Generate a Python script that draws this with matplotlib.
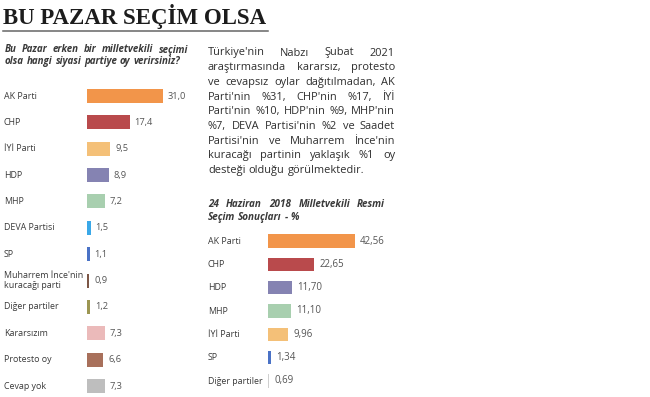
import matplotlib.pyplot as plt
from matplotlib import transforms

# Survey (Feb 2021)
parties = ["AK Parti", "CHP", "İYİ Parti", "HDP", "MHP", "DEVA Partisi", "SP",
           "Muharrem İnce'nin\nkuracağı parti", "Diğer partiler", "Kararsızım",
           "Protesto oy", "Cevap yok"]
votes = [31.0, 17.4, 9.5, 8.9, 7.2, 1.5, 1.1, 0.9, 1.2, 7.3, 6.6, 7.3]
colors = ["#F2954A", "#B94A4C", "#F4C078", "#8583B2", "#A8CFAF", "#3AA8E8", "#4A72C6",
          "#7C5646", "#9C9652", "#EBBABA", "#A8705B", "#BEBEBE"]

# Official results, 24 June 2018
parties_2018 = ["AK Parti", "CHP", "HDP", "MHP", "İYİ Parti", "SP", "Diğer partiler"]
votes_2018 = [42.56, 22.65, 11.70, 11.10, 9.96, 1.34, 0.69]
colors_2018 = ["#F2954A", "#B94A4C", "#8583B2", "#A8CFAF", "#F4C078", "#4A72C6", "#CFCFCF"]

question = ["Bu Pazar erken bir milletvekili seçimi",
            "olsa hangi siyasi partiye oy verirsiniz?"]
subtitle_2018 = ["24 Haziran 2018 Milletvekili Resmi", "Seçim Sonuçları - %"]
paragraph = [
    "Türkiye'nin Nabzı Şubat 2021",
    "araştırmasında kararsız, protesto",
    "ve cevapsız oylar dağıtılmadan, AK",
    "Parti'nin %31, CHP'nin %17, İYİ",
    "Parti'nin %10, HDP'nin %9, MHP'nin",
    "%7, DEVA Partisi'nin %2 ve Saadet",
    "Partisi'nin ve Muharrem İnce'nin",
    "kuracağı partinin yaklaşık %1 oy",
    "desteği olduğu görülmektedir.",
]

W, H = 650, 397
fig = plt.figure(figsize=(W / 100, H / 100), dpi=100)
fig.patch.set_facecolor("white")
SANS = "Open Sans"
TXT = "#3a3a3a"


def fx(px):
    return px / W


def fy(py):
    return 1 - py / H


def bar_axes(x0, x1, row_top, row_bot, n, scale):
    step = (row_bot - row_top) / (n - 1)
    top = row_top - step / 2
    bot = row_bot + step / 2
    ax = fig.add_axes([fx(x0), fy(bot), fx(x1 - x0), (bot - top) / H])
    ax.set_xlim(0, (x1 - x0) / scale)
    ax.set_ylim(n - 0.5, -0.5)
    ax.axis("off")
    return ax


def justified(lines, x0, x1, y0, lh, **kw):
    renderer = fig.canvas.get_renderer()
    for li, line in enumerate(lines):
        words = line.split(" ")
        y = fy(y0 + li * lh)
        objs = [fig.text(fx(x0), y, w, va="center", **kw) for w in words]
        widths = [o.get_window_extent(renderer).width for o in objs]
        if li < len(lines) - 1 and len(words) > 1:
            gap = (x1 - x0 - sum(widths)) / (len(words) - 1)
        else:
            gap = kw["fontsize"] * 0.42
        x = x0
        for o, wd in zip(objs, widths):
            o.set_x(fx(x))
            x += wd + gap


fig.canvas.draw()

# title
fig.text(fx(3), fy(24), "BU PAZAR SEÇİM OLSA", family="Liberation Serif",
         weight="bold", fontsize=16.5, color="#1c1c1c", va="baseline")
fig.add_artist(plt.Line2D([fx(3), fx(268)], [fy(31), fy(31)], color="#666666", lw=1.1))

justified(question, 5, 188, 50, 11.5, family=SANS, style="italic", weight="bold",
          fontsize=7.0, color=TXT)

# left chart
ax1 = bar_axes(87, 205, 96, 386, len(votes), 2.45)
ax1.barh(range(len(votes)), votes, height=0.53, color=colors)
lab1 = transforms.blended_transform_factory(fig.transFigure, ax1.transData)
for i, (p, v) in enumerate(zip(parties, votes)):
    ax1.text(fx(4), i, p, transform=lab1, family=SANS, fontsize=6.4, color=TXT,
             va="center", ha="left", linespacing=1.25)
    ax1.text(v + 2.0, i, f"{v:.1f}".replace(".", ","), family=SANS, fontsize=6.7,
             color="#555555", va="center", ha="left")

# paragraph
justified(paragraph, 208, 395, 53, 14.7, family=SANS, fontsize=7.9, color="#2e2e2e")

justified(subtitle_2018, 208, 385, 205, 12.5, family=SANS, style="italic", weight="bold",
          fontsize=7.1, color=TXT)

# right chart
ax2 = bar_axes(268, 400, 241, 381, len(votes_2018), 2.04)
ax2.barh(range(len(votes_2018)), votes_2018, height=0.56, color=colors_2018)
lab2 = transforms.blended_transform_factory(fig.transFigure, ax2.transData)
for i, (p, v) in enumerate(zip(parties_2018, votes_2018)):
    ax2.text(fx(208), i, p, transform=lab2, family=SANS, fontsize=6.4, color=TXT,
             va="center", ha="left")
    ax2.text(v + 2.6, i, f"{v:.2f}".replace(".", ","), family=SANS, fontsize=7.0,
             color="#555555", va="center", ha="left")

fig.savefig("out.png", dpi=100, facecolor="white")
